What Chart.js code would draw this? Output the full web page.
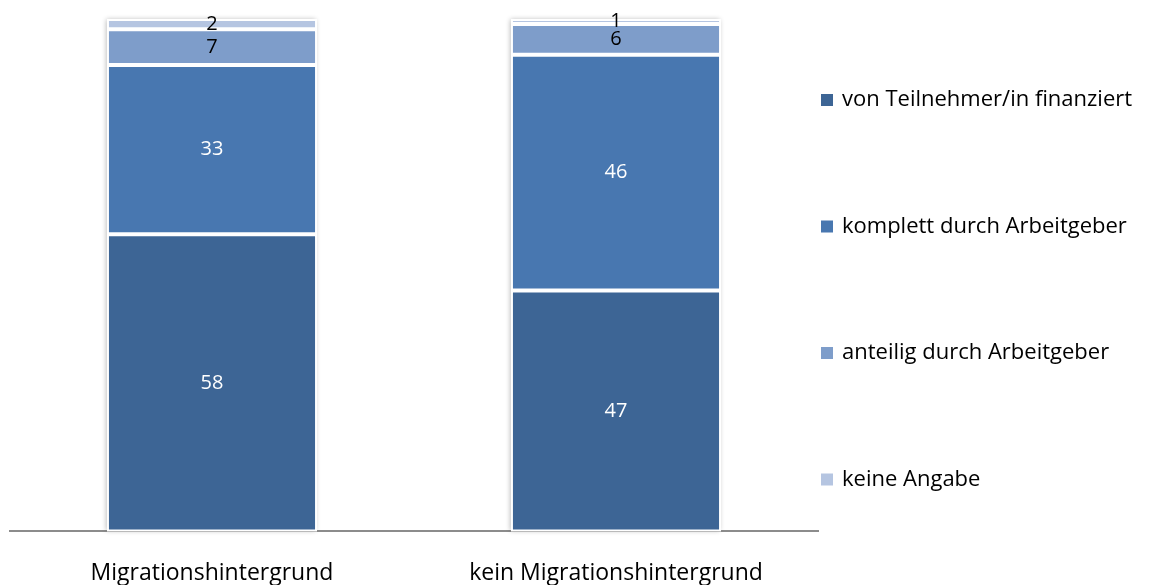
<!DOCTYPE html>
<html>
<head>
<meta charset="utf-8">
<script src="https://cdn.jsdelivr.net/npm/chart.js@4/dist/chart.umd.min.js"></script>
<style>
  html, body { margin: 0; padding: 0; background: #fff; }
  #c { display: block; }
</style>
</head>
<body>
<canvas id="c" width="1159" height="585"></canvas>
<script>
// categories and series (percent)
const categories = ['Migrationshintergrund', 'kein Migrationshintergrund'];
const teilnehmer = [58, 47];
const komplett = [33, 46];
const anteilig = [7, 6];
const keineAngabe = [2, 1];

const seriesNames = [
  'von Teilnehmer/in finanziert',
  'komplett durch Arbeitgeber',
  'anteilig durch Arbeitgeber',
  'keine Angabe'
];
const colors = ['#3d6595', '#4877b0', '#7e9dca', '#b5c5e1'];
const labelColors = ['#fff', '#fff', '#000', '#000'];

const fontFamily = '"Open Sans", "Liberation Sans", sans-serif';

// soft grey frame round each stack
const frame = {
  id: 'frame',
  beforeDatasetsDraw(chart) {
    const ctx = chart.ctx;
    const first = chart.getDatasetMeta(0);
    const last = chart.getDatasetMeta(chart.data.datasets.length - 1);
    ctx.save();
    first.data.forEach((bar, i) => {
      const top = last.data[i];
      const w = bar.width;
      ctx.shadowColor = 'rgba(0,0,0,0.3)';
      ctx.shadowBlur = 5;
      ctx.shadowOffsetX = -1;
      ctx.fillStyle = '#fff';
      ctx.fillRect(bar.x - w / 2, top.y, w, bar.base - top.y);
    });
    ctx.restore();
  }
};

// value labels in the middle of each segment
const values = {
  id: 'values',
  afterDatasetsDraw(chart) {
    const ctx = chart.ctx;
    ctx.save();
    ctx.font = '20px ' + fontFamily;
    ctx.textAlign = 'center';
    ctx.textBaseline = 'middle';
    chart.data.datasets.forEach((ds, d) => {
      chart.getDatasetMeta(d).data.forEach((el, i) => {
        ctx.fillStyle = labelColors[d];
        ctx.fillText(ds.data[i], el.x, (el.y + el.base) / 2);
      });
    });
    ctx.restore();
  }
};

// legend on the right, top entry first, spread over the height
const sideLegend = {
  id: 'sideLegend',
  afterDraw(chart) {
    const ctx = chart.ctx;
    const area = chart.chartArea;
    const x = area.right + 3;
    const step = 126.5;
    const y0 = 100;
    ctx.save();
    ctx.font = '22px ' + fontFamily;
    ctx.textBaseline = 'middle';
    ctx.textAlign = 'left';
    chart.data.datasets.forEach((ds, d) => {
      const y = y0 + d * step;
      ctx.fillStyle = ds.backgroundColor;
      ctx.fillRect(x, y - 6, 12, 12);
      ctx.fillStyle = '#000';
      ctx.fillText(ds.label, x + 21, y);
    });
    ctx.restore();
  }
};

new Chart(document.getElementById('c'), {
  type: 'bar',
  data: {
    labels: categories,
    datasets: [teilnehmer, komplett, anteilig, keineAngabe].map((data, k) => ({
      label: seriesNames[k],
      data: data,
      backgroundColor: colors[k],
      borderColor: '#fff',
      borderWidth: 2,
      borderSkipped: false,
      barPercentage: 0.52,
      categoryPercentage: 1
    }))
  },
  options: {
    responsive: false,
    animation: false,
    devicePixelRatio: 1,
    layout: { padding: { left: 10, top: 19, right: 341, bottom: -22 } },
    scales: {
      x: {
        stacked: true,
        grid: { display: false },
        border: { color: '#8c8c8c', width: 2 },
        ticks: { color: '#000', font: { family: fontFamily, size: 23 }, padding: 20 }
      },
      y: {
        stacked: true,
        display: false,
        min: 0,
        max: 100
      }
    },
    plugins: {
      tooltip: { enabled: false },
      legend: { display: false }
    }
  },
  plugins: [frame, values, sideLegend]
});
</script>
</body>
</html>
